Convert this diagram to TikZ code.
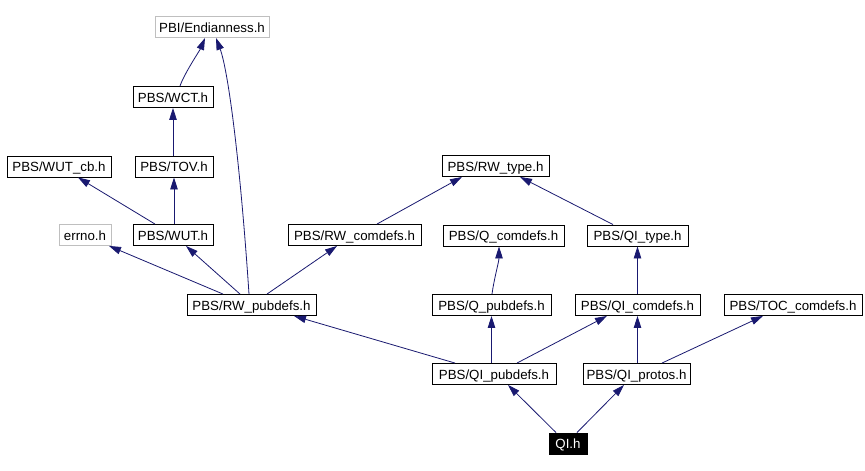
\documentclass[tikz,border=0pt]{standalone}
\usepackage{fontspec}
\setmainfont{Liberation Sans}
\usetikzlibrary{arrows.meta}
\definecolor{edgeblue}{HTML}{191970}
\definecolor{lightgray}{HTML}{BFBFBF}
\tikzset{
  file/.style={draw=black, line width=0.9pt, fill=white, inner sep=0pt,
    minimum height=21pt, text height=10pt, text depth=0pt,
    font=\fontsize{13.3}{16}\selectfont},
  extfile/.style={file, draw=lightgray},
  mainfile/.style={file, fill=black, text=white},
  dep/.style={draw=edgeblue, line width=0.8pt,
    -{Triangle[length=12pt,width=7.5pt]}, fill=none},
}
\begin{document}
\begin{tikzpicture}[x=1pt,y=-1pt]
\useasboundingbox (0,0) rectangle (865,471);
\fill[white] (0,0) rectangle (865,471);
% nodes
\node[extfile, minimum width=114pt] (end) at (212,27) {PBI/Endianness.h};
\node[file, minimum width=80pt] (wct) at (173,97) {PBS/WCT.h};
\node[file, minimum width=104pt] (wutcb) at (59,166.5) {PBS/WUT\_cb.h};
\node[file, minimum width=78pt] (tov) at (174,166.5) {PBS/TOV.h};
\node[extfile, minimum width=52pt] (errno) at (85,235) {errno.h};
\node[file, minimum width=80pt] (wut) at (173,235) {PBS/WUT.h};
\node[file, minimum width=133pt] (rwcom) at (354.5,235) {PBS/RW\_comdefs.h};
\node[file, minimum width=107pt] (rwtype) at (495.5,166) {PBS/RW\_type.h};
\node[file, minimum width=121pt] (qcom) at (503.5,235.5) {PBS/Q\_comdefs.h};
\node[file, minimum width=101pt] (qitype) at (637.5,235.5) {PBS/QI\_type.h};
\node[file, minimum width=129pt] (rwpub) at (251.5,305) {PBS/RW\_pubdefs.h};
\node[file, minimum width=119pt] (qpub) at (491.5,305) {PBS/Q\_pubdefs.h};
\node[file, minimum width=125pt] (qicom) at (637.5,305) {PBS/QI\_comdefs.h};
\node[file, minimum width=138pt] (toc) at (793,305) {PBS/TOC\_comdefs.h};
\node[file, minimum width=124pt] (qipub) at (494,374) {PBS/QI\_pubdefs.h};
\node[file, minimum width=107pt] (qiprot) at (636.5,374) {PBS/QI\_protos.h};
\node[mainfile, minimum width=38pt] (qi) at (568,443.5) {QI.h};
% edges
\draw[dep] ([xshift=7pt]wct.north) .. controls +(4,-12) and +(-5,12) .. ([xshift=-7pt]end.south);
\draw[dep] ([xshift=-2.5pt]rwpub.north) .. controls +(-9,-135) and +(12,32) .. ([xshift=4pt]end.south);
\draw[dep] (tov.north -| wct.south) -- (wct.south);
\draw[dep] (wut.north -| tov.south) -- (tov.south);
\draw[dep] ([xshift=-18pt]wut.north) -- ([xshift=19pt]wutcb.south);
\draw[dep] ([xshift=-28.5pt]rwpub.north) -- ([xshift=24pt]errno.south);
\draw[dep] ([xshift=-11.5pt]rwpub.north) -- ([xshift=13pt]wut.south);
\draw[dep] ([xshift=15.5pt]rwpub.north) -- ([xshift=-17.5pt]rwcom.south);
\draw[dep] ([xshift=22.5pt]rwcom.north) -- ([xshift=-33.5pt]rwtype.south);
\draw[dep] ([xshift=-24.5pt]qitype.north) -- ([xshift=24.5pt]rwtype.south);
\draw[dep] ([xshift=0.5pt]qpub.north) .. controls +(2,-15) and +(0,15) .. ([xshift=-4.5pt]qcom.south);
\draw[dep] (qicom.north -| qitype.south) -- (qitype.south);
\draw[dep] ([xshift=-39pt]qipub.north) -- ([xshift=42.5pt]rwpub.south);
\draw[dep] (qipub.north -| qpub.south) -- (qpub.south);
\draw[dep] ([xshift=23pt]qipub.north) -- ([xshift=-30.5pt]qicom.south);
\draw[dep] (qiprot.north -| qicom.south) -- (qicom.south);
\draw[dep] ([xshift=25.5pt]qiprot.north) -- ([xshift=-30pt]toc.south);
\draw[dep] ([xshift=-12pt]qi.north) -- ([xshift=14pt]qipub.south);
\draw[dep] ([xshift=9pt]qi.north) -- ([xshift=-12.5pt]qiprot.south);
\end{tikzpicture}
\end{document}
